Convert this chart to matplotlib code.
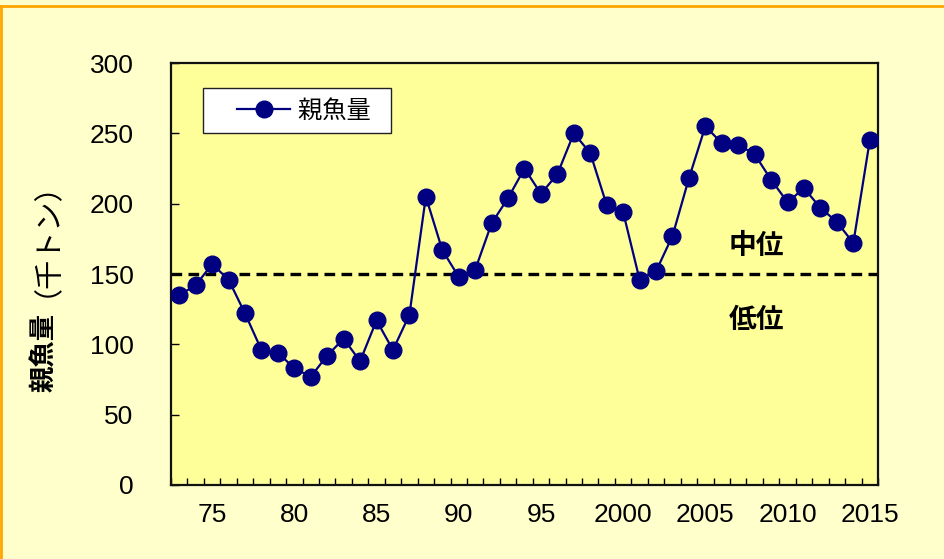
import matplotlib
matplotlib.use("Agg")
import matplotlib.pyplot as plt
from matplotlib import font_manager
from matplotlib.lines import Line2D
from matplotlib.ticker import FixedLocator
from matplotlib.legend_handler import HandlerLine2D

years = list(range(1973, 2016))
spawning_biomass = [135, 142, 157, 146, 122, 96, 94, 83, 77, 92, 104, 88, 117, 96, 121,
                    205, 167, 148, 153, 186, 204, 225, 207, 221, 250, 236, 199, 194, 146, 152,
                    177, 218, 255, 243, 242, 235, 217, 201, 211, 197, 187, 172, 245]
threshold = 150
xtick_years = [1975, 1980, 1985, 1990, 1995, 2000, 2005, 2010, 2015]
xtick_labels = ["75", "80", "85", "90", "95", "2000", "2005", "2010", "2015"]
yticks = [0, 50, 100, 150, 200, 250, 300]
series_label = "親魚量"

names = {f.name for f in font_manager.fontManager.ttflist}
num_font = ["Liberation Sans Narrow"] if "Liberation Sans Narrow" in names else ["Liberation Sans"]
num_size = 21 if "Liberation Sans Narrow" in names else 19
cjk = ["Noto Sans CJK JP", "DejaVu Sans"]

fig = plt.figure(figsize=(9.45, 5.59), dpi=100, facecolor="#FFFFCC")
ax = fig.add_axes([171/945, 1-485/559, 707/945, 422/559])
ax.set_facecolor("#FFFF99")

line, = ax.plot(years, spawning_biomass, color="#000080", lw=1.6, marker="o",
                markersize=12, markerfacecolor="#000080", markeredgecolor="#000080",
                label=series_label, zorder=3)
ax.axhline(threshold, color="black", lw=2.4, linestyle=(0, (3.2, 1.9)), zorder=2)

ax.set_xlim(1972.5, 2015.5)
ax.set_ylim(0, 300)
ax.set_yticks(yticks)
ax.set_xticks(xtick_years)
ax.set_xticklabels(xtick_labels)
ax.xaxis.set_minor_locator(FixedLocator([1972.5 + k for k in range(44)]))
ax.tick_params(axis="x", which="major", length=0, pad=13)
ax.tick_params(axis="x", which="minor", direction="in", length=5, width=1)
ax.tick_params(axis="y", which="major", direction="in", length=6, width=1, pad=27)
for lab in ax.get_xticklabels() + ax.get_yticklabels():
    lab.set_family(num_font)
    lab.set_fontsize(num_size)
for s in ax.spines.values():
    s.set_linewidth(1.6)
    s.set_color("#111111")

ax.text(2008.1, 170, "中位", family=cjk, fontsize=20, fontweight="bold",
        ha="center", va="center")
ax.text(2008.1, 117, "低位", family=cjk, fontsize=20, fontweight="bold",
        ha="center", va="center")

leg = ax.legend(handles=[line], labels=[series_label + "  "],
                loc="upper left", bbox_to_anchor=(0.045, 0.941),
                prop={"family": cjk, "size": 17.5}, frameon=True, fancybox=False,
                edgecolor="#222222", facecolor="white", framealpha=1,
                handlelength=3.2, handletextpad=0.3, borderpad=0.4, borderaxespad=0,
                handler_map={line: HandlerLine2D(xpad=1.0)})
leg.get_frame().set_linewidth(1.0)
leg.set_zorder(5)

fig.text(45/945, 1-352/559, "親魚量", rotation=90, family=cjk, fontsize=19,
         fontweight="bold", ha="center", va="center")
fig.text(32/945, 1-224/559, "（千トン）", rotation=90, family=cjk, fontsize=21,
         ha="center", va="center")

fig.add_artist(Line2D([0, 1], [1-6/559, 1-6/559], color="#FFA500", lw=2,
                      transform=fig.transFigure))
fig.add_artist(Line2D([1/945, 1/945], [0, 1-6/559], color="#FFA500", lw=2,
                      transform=fig.transFigure))

fig.savefig("out.png", dpi=100, facecolor=fig.get_facecolor())
